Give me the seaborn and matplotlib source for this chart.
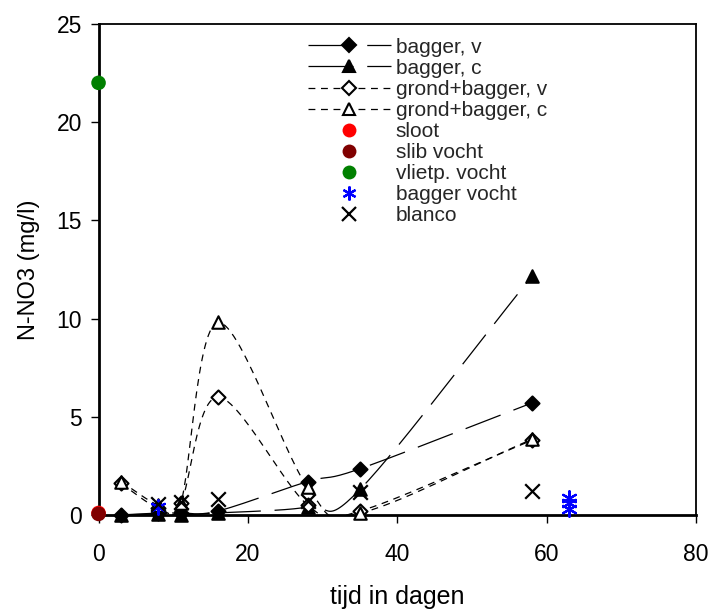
import numpy as np
import pandas as pd
import matplotlib
matplotlib.use("Agg")
import matplotlib.pyplot as plt
from matplotlib.lines import Line2D
import seaborn as sns

# ---- data ----
days = [3, 8, 11, 16, 28, 35, 58]
bagger_v = [0.0, 0.1, 0.1, 0.2, 1.7, 2.35, 5.7]
bagger_c = [0.0, 0.05, 0.0, 0.1, 0.4, 1.3, 12.15]
grond_bagger_v = [1.6, 0.35, 0.6, 6.0, 0.5, 0.2, 3.8]
grond_bagger_c = [1.7, 0.5, 0.6, 9.8, 1.4, 0.1, 3.85]

sloot_x, sloot_y = [0], [0.1]
slib_x, slib_y = [0], [0.05]
vlietp_x, vlietp_y = [0], [22.0]
bagger_vocht_x = [8, 63, 63, 63]
bagger_vocht_y = [0.4, 0.3, 0.6, 0.85]
blanco_x = [8, 11, 16, 28, 35, 58]
blanco_y = [0.55, 0.65, 0.8, 0.7, 1.15, 1.2]

xticks = [0, 20, 40, 60, 80]
yticks = [0, 5, 10, 15, 20, 25]


def catmull_rom(x, y, n=30):
    x = np.asarray(x, float)
    y = np.asarray(y, float)
    px = np.concatenate([[2 * x[0] - x[1]], x, [2 * x[-1] - x[-2]]])
    py = np.concatenate([[2 * y[0] - y[1]], y, [2 * y[-1] - y[-2]]])
    xs, ys = [], []
    t = np.linspace(0, 1, n)
    for i in range(1, len(px) - 2):
        p0, p1, p2, p3 = (np.array([px[j], py[j]]) for j in range(i - 1, i + 3))
        tt = t[:, None]
        pts = 0.5 * ((2 * p1) + (-p0 + p2) * tt + (2 * p0 - 5 * p1 + 4 * p2 - p3) * tt ** 2
                     + (-p0 + 3 * p1 - 3 * p2 + p3) * tt ** 3)
        xs.extend(pts[:, 0])
        ys.extend(pts[:, 1])
    return np.array(xs), np.array(ys)


sns.set_theme(style="white")
plt.rcParams['font.family'] = ['Liberation Sans', 'DejaVu Sans']

fig = plt.figure(figsize=(7.09, 6.13), dpi=100)
ax = fig.add_axes([0.139, 0.160, 0.843, 0.801])

long_dash = (0, (30, 11))
long_dash_leg = (0, (36, 11))
short_dash = (0, (5.5, 4.5))
series = [
    ("bagger, v", bagger_v, "D", "black", long_dash, long_dash_leg),
    ("bagger, c", bagger_c, "^", "black", long_dash, long_dash_leg),
    ("grond+bagger, v", grond_bagger_v, "D", "white", short_dash, short_dash),
    ("grond+bagger, c", grond_bagger_c, "^", "white", short_dash, short_dash),
]

handles = []
for name, vals, mk, fc, ls, lls in series:
    sx, sy = catmull_rom(days, vals)
    df = pd.DataFrame({"x": sx, "y": sy})
    sns.lineplot(data=df, x="x", y="y", sort=False, ax=ax, color="black",
                 lw=0.9, linestyle=ls, estimator=None)
    ms = 8 if mk == "D" else 9
    pts = pd.DataFrame({"x": days, "y": vals})
    sns.scatterplot(data=pts, x="x", y="y", ax=ax, marker=mk,
                    s=ms ** 2 * (0.8 if mk == "D" else 1.0),
                    facecolor=fc, edgecolor="black", linewidth=1.5, zorder=5, clip_on=False)
    handles.append(Line2D([], [], color="black", lw=0.9, linestyle=lls, marker=mk,
                          markersize=ms * (0.9 if mk == "D" else 1.0),
                          markerfacecolor=fc, markeredgecolor="black", markeredgewidth=1.5))

# single point series
for name, xs, ys, col in [("sloot", sloot_x, sloot_y, "#ff0000"),
                          ("slib vocht", slib_x, slib_y, "#800000"),
                          ("vlietp. vocht", vlietp_x, vlietp_y, "#008000")]:
    sns.scatterplot(x=xs, y=ys, ax=ax, marker="o", s=110, color=col,
                    edgecolor="none", zorder=6, clip_on=False)
    handles.append(Line2D([], [], lw=0, marker="o", markersize=10, color=col,
                          markeredgecolor="none"))

sns.scatterplot(x=bagger_vocht_x, y=bagger_vocht_y, ax=ax, marker=(6, 2, 0), s=110,
                color="blue", edgecolor="blue", linewidth=1.6, zorder=7, clip_on=False)
handles.append(Line2D([], [], lw=0, marker=(6, 2, 0), markersize=10, color="blue",
                      markeredgecolor="blue", markeredgewidth=1.6))

sns.scatterplot(x=blanco_x, y=blanco_y, ax=ax, marker="x", s=110,
                color="black", linewidth=1.6, zorder=7, clip_on=False)
handles.append(Line2D([], [], lw=0, marker="x", markersize=10, color="black",
                      markeredgewidth=1.6))

labels = [s[0] for s in series] + ["sloot", "slib vocht", "vlietp. vocht",
                                   "bagger vocht", "blanco"]

ax.set_xlim(0, 80)
ax.set_ylim(0, 25)
ax.set_xticks(xticks)
ax.set_yticks(yticks)
ax.tick_params(axis="both", which="major", direction="out", length=6, width=1,
               labelsize=16.5, color="black", labelcolor="black", pad=6,
               bottom=True, left=True, top=False, right=False)
ax.tick_params(axis="x", pad=14)
for sp in ax.spines.values():
    sp.set_visible(True)
    sp.set_color("black")
    sp.set_linewidth(1.3)
ax.spines["left"].set_linewidth(2)
ax.spines["bottom"].set_linewidth(2)

ax.set_xlabel("tijd in dagen", fontsize=18, color="black", labelpad=14)
ax.set_ylabel("N-NO3 (mg/l)", fontsize=17, color="black", labelpad=12)

leg = ax.legend(handles, labels, loc="upper left", bbox_to_anchor=(0.351, 0.972),
                frameon=False, fontsize=15, handlelength=3.95, handletextpad=0.25,
                labelspacing=0.1, borderpad=0, borderaxespad=0)

fig.savefig("out.png", dpi=100)
